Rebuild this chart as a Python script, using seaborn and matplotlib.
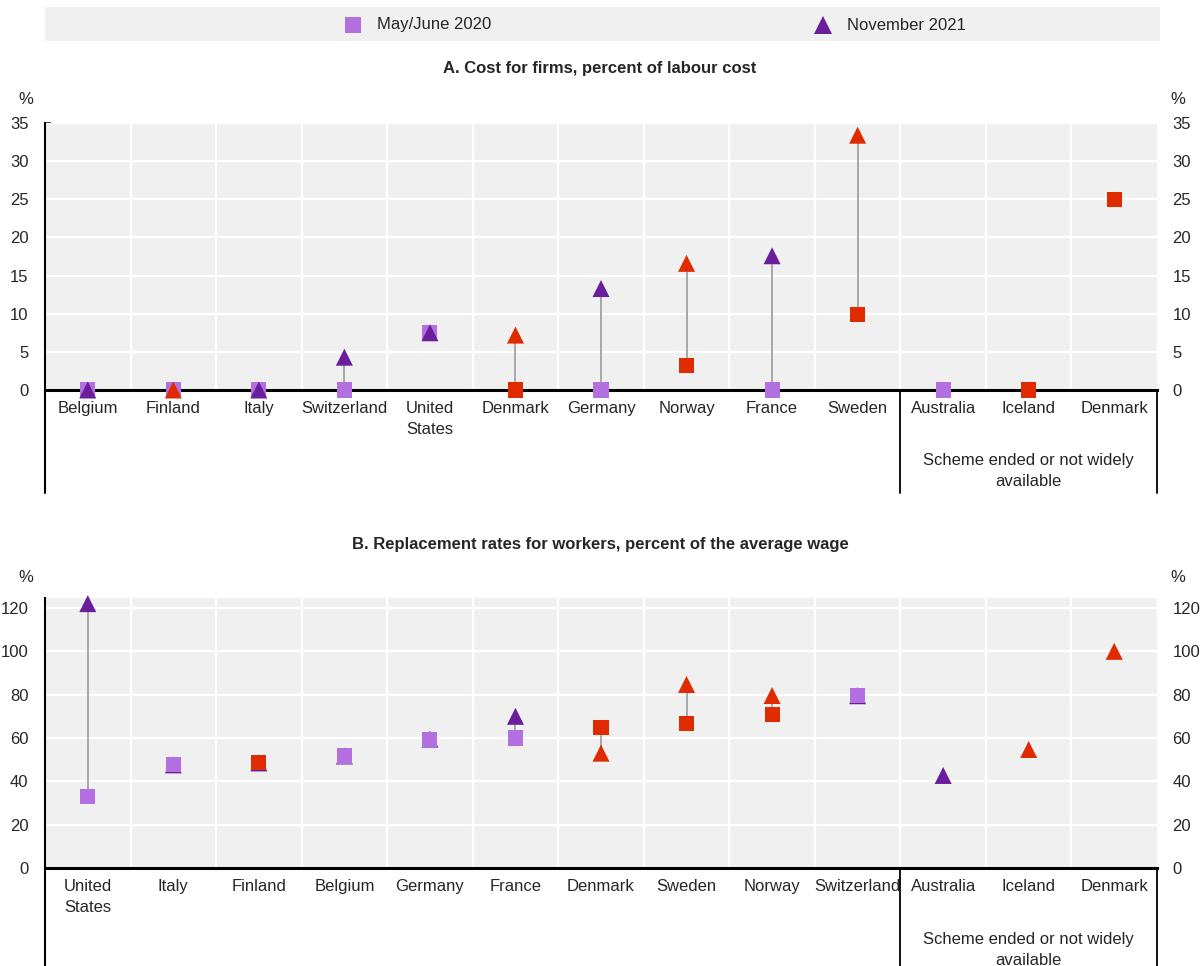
import numpy as np
import pandas as pd
import seaborn as sns
import matplotlib.pyplot as plt
from matplotlib.patches import Rectangle
from matplotlib.lines import Line2D

# Colours
LIGHT = '#b36fe0'
DARK = '#6b1e9c'
RED = '#e02a00'
COLOURS = {'L': LIGHT, 'D': DARK, 'R': RED}

# Panel A: cost for firms
a_countries = ['Belgium', 'Finland', 'Italy', 'Switzerland', 'United\nStates', 'Denmark',
               'Germany', 'Norway', 'France', 'Sweden', 'Australia', 'Iceland', 'Denmark']
a_2020 = [0, 0, 0, 0, 7.5, 0, 0, 3.2, 0, 9.9, 0, 0, 25]
a_2021 = [0, 0, 0, 4.3, 7.5, 7.2, 13.3, 16.6, 17.6, 33.4, np.nan, np.nan, np.nan]
a_2020_col = ['L', 'L', 'L', 'L', 'L', 'R', 'L', 'R', 'L', 'R', 'L', 'R', 'R']
a_2021_col = ['D', 'R', 'D', 'D', 'D', 'R', 'D', 'R', 'D', 'R', '', '', '']
a_yticks = [0, 5, 10, 15, 20, 25, 30, 35]

# Panel B: replacement rates
b_countries = ['United\nStates', 'Italy', 'Finland', 'Belgium', 'Germany', 'France', 'Denmark',
               'Sweden', 'Norway', 'Switzerland', 'Australia', 'Iceland', 'Denmark']
b_2020 = [33, 47.6, 48.5, 51.7, 59.5, 60, 65, 66.5, 71, 79.5, np.nan, np.nan, np.nan]
b_2021 = [122, 47.6, 48.5, 51.7, 59.5, 70, 53, 84.7, 79.6, 79.5, 42.7, 54.7, 100]
b_2020_col = ['L', 'L', 'R', 'L', 'L', 'L', 'R', 'R', 'R', 'L', '', '', '']
b_2021_col = ['D', 'D', 'D', 'D', 'D', 'D', 'R', 'R', 'R', 'D', 'D', 'R', 'R']
b_yticks = [0, 20, 40, 60, 80, 100, 120]

GROUP_LABEL = 'Scheme ended or not widely\navailable'

sns.set_style("white")
plt.rcParams['font.family'] = ['Liberation Sans Narrow', 'Liberation Sans', 'DejaVu Sans']
FS = 12

W, H = 1203, 966
fig = plt.figure(figsize=(W / 100, H / 100), dpi=100)


def fy(px):
    return 1 - px / H


def frame(vals, cols):
    df = pd.DataFrame({'pos': np.arange(len(vals)), 'value': vals,
                       'colour': [COLOURS.get(c) for c in cols]})
    return df.dropna()


def draw_panel(ax, countries, v2020, v2021, c2020, c2021, yticks, ytop, ext,
               triangles_on_top):
    ax.set_facecolor('#f0f0f0')
    n = len(countries)
    # grid
    for k in range(n - 1):
        ax.axvline(k + 0.5, color='white', lw=1.6, zorder=1)
    for t in yticks[1:]:
        ax.axhline(t, color='white', lw=1.6, zorder=1)

    # connectors
    lo = np.array(v2020, dtype=float)
    hi = np.array(v2021, dtype=float)
    mask = ~np.isnan(lo) & ~np.isnan(hi)
    ax.vlines(np.arange(n)[mask], lo[mask], hi[mask], color='#a8a8a8', lw=1.4, zorder=2)

    d20 = frame(v2020, c2020)
    d21 = frame(v2021, c2021)
    z_sq, z_tri = (3, 4) if triangles_on_top else (4, 3)
    sns.scatterplot(data=d20, x='pos', y='value', hue='colour',
                    palette={c: c for c in d20['colour'].unique()},
                    marker='s', s=118, linewidth=0, legend=False, ax=ax,
                    zorder=z_sq, clip_on=False)
    sns.scatterplot(data=d21, x='pos', y='value', hue='colour',
                    palette={c: c for c in d21['colour'].unique()},
                    marker='^', s=150, linewidth=0, legend=False, ax=ax,
                    zorder=z_tri, clip_on=False)

    ax.set_xlim(-0.5, n - 0.5)
    ax.set_ylim(0, ytop)
    ax.set_xlabel('')
    ax.set_ylabel('')
    ax.set_xticks(range(n))
    ax.set_xticklabels(countries, fontsize=FS, va='top')
    for lbl in ax.get_xticklabels():
        lbl.set_linespacing(1.45)
    ax.set_yticks(yticks)
    ax.set_yticklabels([str(t) for t in yticks], fontsize=FS)
    ax.tick_params(axis='x', length=0, pad=8)
    ax.tick_params(axis='y', direction='in', length=4, width=1.2, pad=12, left=True)
    for s in ['top', 'right']:
        ax.spines[s].set_visible(False)
    ax.spines['left'].set_color('black')
    ax.spines['left'].set_linewidth(1.5)
    ax.spines['bottom'].set_color('black')
    ax.spines['bottom'].set_linewidth(2.2)

    # right-hand axis labels
    ax2 = ax.twinx()
    ax2.set_ylim(0, ytop)
    ax2.set_yticks(yticks)
    ax2.set_yticklabels([str(t) for t in yticks], fontsize=FS)
    ax2.tick_params(axis='y', length=0, pad=11)
    for s in ax2.spines.values():
        s.set_visible(False)

    # lines below the axis: left spine extension and group box
    grp = (n - 3) / n
    for x in [0, grp, 1]:
        ax.plot([x, x], [0, -ext], color='black', lw=1.5 if x == 0 else 1.3,
                transform=ax.transAxes, clip_on=False)
    ax.text(n - 2, -0.305, GROUP_LABEL, transform=ax.get_xaxis_transform(),
            fontsize=FS, ha='center', va='center', linespacing=1.5)


axA = fig.add_axes([45 / W, fy(390), (1157 - 45) / W, (390 - 123) / H])
draw_panel(axA, a_countries, a_2020, a_2021, a_2020_col, a_2021_col, a_yticks, 35,
           (493 - 390) / 267, True)

axB = fig.add_axes([45 / W, fy(868), (1157 - 45) / W, (868 - 598) / H])
draw_panel(axB, b_countries, b_2020, b_2021, b_2020_col, b_2021_col, b_yticks, 124.6,
           (972 - 868) / 270, False)

# titles and unit labels
fig.text(600 / W, fy(68), 'A. Cost for firms, percent of labour cost',
         ha='center', va='center', fontsize=FS, fontweight='bold')
fig.text(600 / W, fy(545), 'B. Replacement rates for workers, percent of the average wage',
         ha='center', va='center', fontsize=FS, fontweight='bold')
for ypx in [100, 577]:
    fig.text(26 / W, fy(ypx), '%', ha='center', va='center', fontsize=FS)
    fig.text(1178 / W, fy(ypx), '%', ha='center', va='center', fontsize=FS)

# legend band
fig.add_artist(Rectangle((45 / W, fy(41)), (1160 - 45) / W, 34 / H,
                         transform=fig.transFigure, facecolor='#f0f0f0', edgecolor='none'))
fig.add_artist(Line2D([353 / W], [fy(25)], marker='s', markersize=11, color=LIGHT,
                      markeredgewidth=0, linestyle='none', transform=fig.transFigure))
fig.text(377 / W, fy(25), 'May/June 2020', ha='left', va='center', fontsize=FS)
fig.add_artist(Line2D([823 / W], [fy(25)], marker='^', markersize=12.5, color=DARK,
                      markeredgewidth=0, linestyle='none', transform=fig.transFigure))
fig.text(847 / W, fy(25), 'November 2021', ha='left', va='center', fontsize=FS)

fig.savefig('out.png', dpi=100)
